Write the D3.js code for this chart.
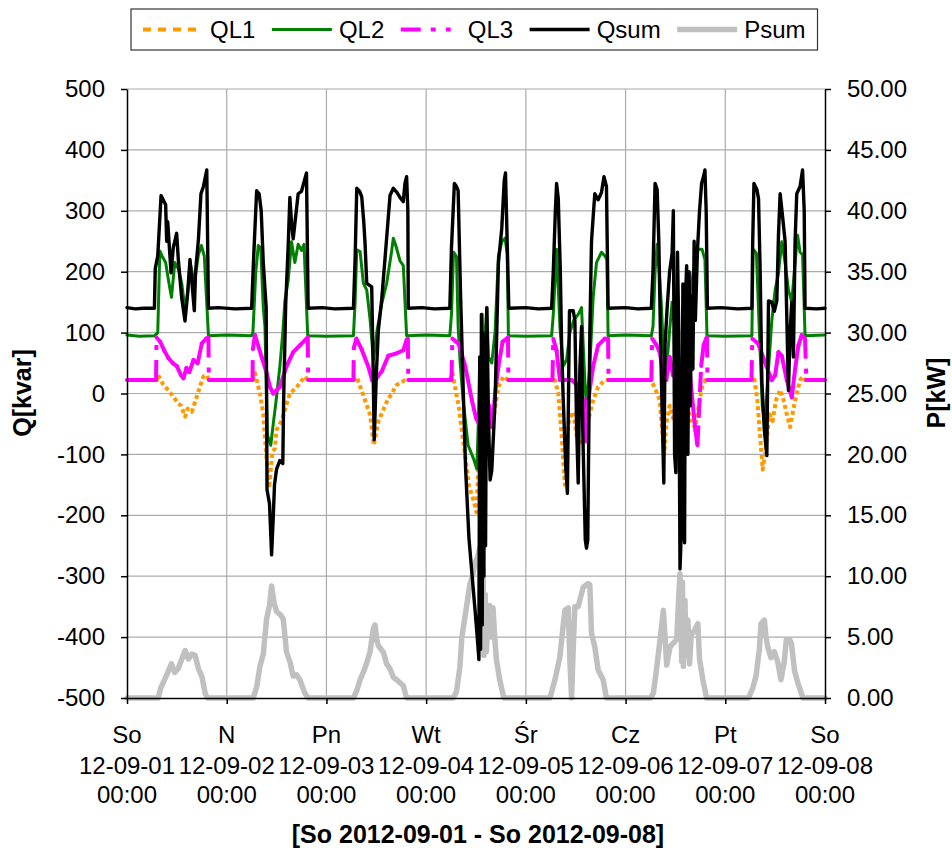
<!DOCTYPE html>
<html>
<head>
<meta charset="utf-8">
<script src="https://cdn.jsdelivr.net/npm/d3@7"></script>
<style>
  html, body { margin: 0; padding: 0; background: #fff; }
  svg { display: block; font-family: "Liberation Sans", Arial, sans-serif; }
</style>
</head>
<body>
<svg id="chart" width="952" height="848"></svg>
<script>
// ---- data: [hour since 2012-09-01 00:00, value] ----
const dayNames   = ["So", "N", "Pn", "Wt", "Śr", "Cz", "Pt", "So"];
const dateLabels = ["12-09-01", "12-09-02", "12-09-03", "12-09-04", "12-09-05", "12-09-06", "12-09-07", "12-09-08"];
const timeLabel  = "00:00";
const hourTicks  = [0, 24, 48, 72, 96, 120, 144, 168];
const qTicks     = [-500, -400, -300, -200, -100, 0, 100, 200, 300, 400, 500];
const pTicks     = [0, 5, 10, 15, 20, 25, 30, 35, 40, 45, 50];
const seriesNames = ["QL1", "QL2", "QL3", "Qsum", "Psum"];
const axisTitleX = "[So 2012-09-01 - So 2012-09-08]";

// reactive power phase L1 [kvar]
const QL1 = [
  [0,22],[7.2,22],[7.5,30],[8.7,15],[10,5],[11.1,-5],[12.3,-16],[13,-20],[14,-38],[14.6,-25],[15.6,-30],[16.8,-5],[17.5,10],[18.4,28],[19.3,30],[19.6,22],
  [30.3,22],[30.8,34],[32.0,0],[32.8,-34],[33.5,-100],[34.2,-155],[35,-96],[35.6,-90],[36.0,-60],[37.2,-45],[39.2,0],[40.8,10],[42.8,28],[43.6,22],
  [54.5,22],[55.3,27],[56.9,-3],[58.5,-35],[59.4,-85],[60.5,-46],[62.5,-14],[64.9,14],[66.9,22],
  [77.7,22],[78.3,34],[79.9,-23],[80.7,-68],[81.5,-107],[82.3,-152],[83.4,-175],[84.1,-195],[84.7,-100],[85.2,-150],[85.7,-60],[86.3,-120],[86.9,-40],[87.8,-60],[88.6,-23],[89.4,11],[90.6,28],[91.8,22],
  [102.4,22],[103.0,22],[103.8,0],[104.6,-68],[105.4,-150],[106.2,-50],[106.6,-40],[107.4,-30],[108.2,-68],[109.0,-85],[110.6,-55],[112.2,-11],[113.4,11],[115.0,22],
  [126.2,22],[127.6,0],[128.2,-11],[128.8,-60],[129.3,-100],[129.8,-50],[130.6,-20],[131.4,-40],[132.2,-30],[133.0,-70],[133.6,-40],[134.4,-55],[135.2,-30],[136.0,-50],[136.8,-56],[137.6,-20],[138.4,10],[139.2,22],
  [150.5,22],[150.9,28],[151.7,-10],[152.1,-45],[152.5,-80],[153.0,-125],[153.6,-100],[154.6,-34],[155.4,-45],[156.2,-11],[157.2,6],[158.0,-10],[158.8,-34],[159.6,-55],[160.8,-11],[162.0,22],[162.6,28],[163.2,22],[168,22]
];

// reactive power phase L2 [kvar]
const QL2 = [
  [0,96],[3,94],[6.7,95],[7.4,100],[7.9,234],[8.5,225],[9.3,215],[10.0,185],[10.7,158],[11.5,215],[12.35,205],[13.2,180],[14.0,136],[14.6,165],[15.2,215],[16.2,180],[17.2,228],[17.9,243],[18.6,226],[19.6,95],[24,96],
  [30.0,95],[30.3,100],[31.0,200],[31.6,243],[32.2,238],[32.8,141],[33.2,110],[33.8,-68],[34.6,-85],[35.2,-50],[35.9,-11],[36.8,45],[37.5,100],[38.0,152],[38.8,186],[39.6,249],[40.4,215],[41.2,245],[42.0,235],[42.6,245],[43.5,95],[48,94],
  [54.5,95],[54.9,150],[55.3,236],[56.1,233],[56.9,181],[57.7,170],[58.5,122],[59.3,56],[60.1,100],[61.3,147],[62.5,181],[63.7,234],[64.1,255],[64.7,243],[65.7,218],[66.5,210],[67.3,95],[72,96],
  [77.7,95],[78.1,130],[78.6,232],[79.3,225],[79.7,110],[80.2,50],[80.9,-11],[82.1,-85],[83.4,-107],[84.2,-124],[84.6,-40],[84.9,60],[85.2,20],[85.5,130],[85.8,40],[86.2,100],[86.6,141],[87.0,60],[87.8,50],[88.6,102],[89.4,226],[90.2,249],[91.0,255],[91.5,230],[91.8,95],[96,94],
  [102.2,95],[102.6,130],[103.4,237],[104.2,110],[105.0,45],[105.8,55],[106.6,100],[107.5,120],[108.6,130],[109.4,141],[110.2,20],[110.6,-23],[111.4,45],[112.2,158],[113.0,215],[114.2,232],[115.0,226],[115.5,220],[115.8,95],[120,96],
  [126.2,95],[126.6,110],[127.1,200],[127.6,245],[128.1,200],[128.6,147],[129.2,60],[129.9,45],[130.5,95],[131.2,150],[132.0,100],[132.6,20],[133.1,-20],[133.6,60],[134.2,100],[134.7,195],[135.4,150],[136.3,200],[137.1,225],[137.5,237],[138.4,237],[139.1,220],[139.6,95],[144,94],
  [150.4,95],[150.7,237],[151.5,230],[152.1,120],[152.9,-20],[153.5,-51],[154.4,40],[155.2,120],[156.0,170],[156.8,198],[157.6,249],[158.4,215],[159.2,170],[160.0,150],[160.8,215],[161.4,260],[162.0,232],[162.6,228],[163.2,95],[168,96]
];

// reactive power phase L3 [kvar]
const QL3 = [
  [0,22],[7.0,22],[7.1,92],[8,85],[9,70],[10,58],[11,50],[12,45],[13,30],[13.6,25],[14.3,42],[15,35],[16,55],[17,50],[18,82],[19,90],[19.6,92],[19.7,22],
  [30.2,22],[30.3,73],[30.8,96],[32.4,60],[33.6,34],[34.4,11],[35.2,0],[36.8,11],[38.4,45],[40.0,68],[41.6,79],[43.2,90],[43.5,92],[43.6,22],
  [54.5,22],[54.6,75],[55.2,90],[56.5,72],[58.1,44],[59.0,22],[59.7,22],[61.3,36],[62.9,62],[64.9,66],[66.5,71],[67.3,88],[67.6,90],[67.7,22],
  [78.1,22],[78.3,90],[79.8,82],[81.4,45],[83.0,-11],[84.0,-40],[85.1,-56],[86.0,-30],[86.6,-45],[87.2,-20],[87.9,-55],[88.6,0],[89.4,45],[90.4,85],[91.4,90],[91.7,92],[91.8,22],
  [102.4,22],[102.6,90],[103.4,70],[104.2,22],[107.0,22],[108.2,15],[109.8,-11],[110.5,-79],[111.0,-11],[112.2,45],[113.4,79],[115.0,90],[115.8,90],[115.9,22],
  [126.2,22],[126.4,90],[127.4,80],[128.2,68],[129.0,40],[129.8,22],[130.6,60],[131.4,30],[132.2,40],[133.0,0],[133.8,22],[134.6,-5],[135.4,40],[136.2,-20],[136.8,-60],[137.3,-85],[137.6,-40],[138.2,45],[138.8,80],[139.4,90],[139.6,92],[139.7,22],
  [150.3,22],[150.5,90],[151.9,82],[153.9,45],[155.2,22],[156.0,30],[156.8,68],[157.6,62],[158.8,22],[160.0,-6],[160.8,40],[161.6,79],[162.4,96],[163.2,90],[163.5,22],[168,22]
];

// total reactive power [kvar]
const Qsum = [
  [0,141],[2,139],[4,140],[6.6,140],[6.8,205],[7.4,226],[8.2,325],[9.3,310],[9.55,250],[9.8,282],[10.6,198],[11.15,240],[11.95,263],[12.35,220],[13.15,158],[13.96,119],[14.6,165],[15.16,220],[16.2,136],[16.5,200],[17.2,254],[17.8,328],[18.4,340],[19.2,367],[19.6,140],[22,141],[26,139],
  [30.0,140],[30.4,210],[31.2,333],[31.8,328],[32.3,300],[32.8,215],[33.5,141],[33.7,-158],[34.3,-181],[34.8,-265],[35.2,-203],[35.5,-150],[36,-124],[36.8,-110],[37.5,-115],[37.7,-11],[38.2,147],[38.8,243],[39.2,322],[39.6,280],[40.0,254],[41.2,328],[42,332],[43.2,362],[43.6,140],[47,141],[50,139],
  [54.5,140],[54.9,220],[55.3,337],[56.0,332],[56.5,323],[57.0,280],[57.3,246],[57.7,181],[58.9,175],[59.2,60],[59.5,-76],[60.0,30],[60.5,104],[61.3,154],[62.2,230],[62.9,290],[63.3,325],[64.1,337],[65.0,330],[65.7,322],[66.5,315],[66.9,345],[67.3,356],[67.6,300],[67.7,140],[71,141],[74,139],
  [77.7,140],[78.1,240],[78.8,345],[79.3,340],[79.7,333],[80.3,158],[81.0,-11],[81.5,-124],[82.3,-237],[83.0,-294],[83.7,-350],[84.3,-400],[84.7,-437],[84.9,60],[85.1,-420],[85.3,130],[85.5,-380],[85.7,100],[85.9,-300],[86.1,90],[86.3,-250],[86.6,141],[87.0,-40],[87.4,-142],[87.8,-126],[88.6,-11],[89.4,215],[90.2,271],[90.8,350],[91.1,362],[91.5,250],[91.9,140],[96,141],[99,139],
  [102.2,140],[102.6,200],[103.1,300],[103.4,345],[103.8,320],[104.3,200],[104.6,80],[105.0,-11],[105.6,-120],[106.0,-164],[106.3,20],[106.5,136],[107.4,136],[107.8,120],[108.2,-50],[108.6,-147],[109.0,40],[109.4,110],[109.7,-60],[110.0,-150],[110.3,-240],[110.6,-254],[110.9,-240],[111.1,-100],[111.4,100],[111.8,250],[112.3,300],[112.6,328],[113.4,318],[114.2,330],[114.8,356],[115.4,340],[115.8,140],[120,141],[123,139],
  [126.2,140],[126.6,200],[127.1,345],[127.6,335],[128.0,250],[128.5,60],[129.2,-147],[129.5,80],[130.0,140],[130.6,200],[131.2,230],[131.5,300],[131.8,-100],[132.1,-130],[132.5,232],[132.8,100],[133.1,-288],[133.3,-250],[133.5,-120],[133.8,180],[134.0,-230],[134.2,-245],[134.4,150],[134.7,210],[135.0,-100],[135.3,200],[135.6,-20],[135.9,160],[136.2,40],[136.5,250],[136.8,120],[137.3,235],[137.8,300],[138.3,345],[138.8,357],[139.1,367],[139.4,300],[139.7,140],[143,141],[147,139],
  [150.4,140],[150.6,250],[150.9,345],[151.6,335],[152.0,320],[152.4,200],[152.8,20],[153.4,-60],[154.0,-102],[154.4,152],[155.2,150],[155.8,135],[156.4,152],[156.8,260],[157.2,328],[157.8,290],[158.4,250],[159.2,5],[159.6,100],[160.0,150],[160.4,60],[160.8,250],[161.2,328],[162.0,340],[162.6,367],[163.0,300],[163.2,140],[166,139],[168,140]
];

// total active power [kW]
const Psum = [
  [0,0],[7.5,0],[8.1,0.8],[8.7,1.25],[9.7,2.0],[10.7,2.8],[11.5,2.1],[12.3,2.4],[13.2,3.2],[14.0,3.9],[14.8,3.2],[15.6,3.6],[16.4,3.5],[17.2,2.4],[18.0,1.8],[18.8,0.4],[19.4,0],
  [30.4,0],[31.2,0.9],[32.0,2.6],[32.8,3.6],[33.6,6.5],[34.3,7.6],[34.8,9.2],[35.4,7.8],[36.0,7.1],[37.0,6.8],[37.6,6.5],[38.4,3.75],[39.2,3.0],[40.0,1.8],[40.8,1.9],[41.6,1.5],[42.8,0.4],[43.6,0],
  [54.5,0],[55.3,0.6],[56.1,1.5],[57.0,2.2],[57.7,2.9],[58.5,3.8],[59.3,5.7],[59.7,6.0],[60.1,4.8],[60.5,4.3],[61.7,3.75],[62.5,2.8],[63.3,2.4],[64.1,1.7],[64.9,1.5],[66.5,1.0],[67.3,0],
  [78.5,0],[79.3,0.5],[80.1,2.5],[80.6,5.0],[81.5,7.0],[82.5,9.3],[83.3,10.2],[83.7,11.0],[84.4,11.6],[84.9,12.3],[85.1,6.0],[85.3,11.5],[85.5,4.0],[85.7,10.5],[85.9,3.5],[86.2,8.5],[86.5,3.8],[86.9,7.0],[87.3,7.6],[87.7,5.0],[88.1,7.4],[88.5,5.0],[88.9,3.2],[89.7,1.5],[90.5,0.3],[90.8,0],
  [101.8,0],[103.0,1.5],[104.2,3.4],[105.0,6.0],[105.4,7.2],[106.2,7.4],[106.6,3.0],[107.0,0],[107.5,5.0],[107.8,7.5],[108.6,7.5],[109.8,9.1],[111.0,9.4],[111.4,9.3],[111.8,5.3],[112.6,4.2],[113.4,2.3],[114.6,1.5],[115.4,0],
  [126.0,0],[126.7,0.4],[127.5,2.5],[128.3,4.8],[129.1,7.2],[129.5,5.0],[129.9,2.7],[130.7,4.2],[131.5,4.5],[132.3,4.8],[132.9,9.0],[133.1,10.2],[133.3,8.0],[133.5,3.0],[133.7,9.5],[133.9,2.6],[134.3,8.0],[134.6,3.5],[135.0,6.4],[135.4,2.8],[135.8,5.2],[136.5,5.5],[137.4,6.1],[137.8,3.2],[138.6,1.5],[139.5,0],
  [149.6,0],[150.6,0.8],[151.4,1.8],[152.2,4.0],[152.6,6.1],[153.4,6.4],[153.8,5.0],[154.2,4.2],[155.0,3.3],[155.8,3.8],[156.6,3.0],[157.4,1.5],[158.2,3.0],[158.7,4.8],[159.5,4.8],[159.9,4.5],[160.7,2.2],[161.5,1.2],[162.7,0],[168,0]
];

// ---- layout & scales ----
const svg = d3.select("#chart");
const plot = { left: 127, right: 825, top: 89, bottom: 698 };
const FONT = 24;

const x  = d3.scaleLinear().domain([0, 168]).range([plot.left, plot.right]);
const yQ = d3.scaleLinear().domain([-500, 500]).range([plot.bottom, plot.top]);
const yP = d3.scaleLinear().domain([0, 50]).range([plot.bottom, plot.top]);

// ---- gridlines ----
const grid = svg.append("g").attr("stroke", "#ababab").attr("stroke-width", 1.2);
grid.selectAll("line.h").data(qTicks.filter(d => d > -500)).join("line")
  .attr("x1", plot.left).attr("x2", plot.right)
  .attr("y1", d => yQ(d)).attr("y2", d => yQ(d));
grid.selectAll("line.v").data(hourTicks.filter(d => d > 0 && d < 168)).join("line")
  .attr("y1", plot.top).attr("y2", plot.bottom)
  .attr("x1", d => x(d)).attr("x2", d => x(d));

// ---- series ----
const styles = {
  QL1:  { color: "#ff9900", width: 4, dash: [4, 3] },
  QL2:  { color: "#008000", width: 3 },
  QL3:  { color: "#ff00ff", width: 4, pattern: [20, 10, 5, 10, 5, 10] },
  Qsum: { color: "#000000", width: 3.4 },
  Psum: { color: "#c0c0c0", width: 5.5 }
};

const lineQ = d3.line().x(d => x(d[0])).y(d => yQ(d[1]));
const lineP = d3.line().x(d => x(d[0])).y(d => yP(d[1]));

const layer = svg.append("g").attr("fill", "none").attr("stroke-linejoin", "round");

function solidPath(data, gen, st) {
  layer.append("path").datum(data).attr("d", gen)
    .attr("stroke", st.color).attr("stroke-width", st.width)
    .attr("stroke-linecap", "round");
}

// cut a repeating dash pattern to a length, keeping on/off pairs
function cutPattern(pattern, L) {
  const out = [];
  let acc = 0, i = 0;
  while (acc < L - 1e-6) {
    const v = pattern[i % pattern.length];
    const take = Math.min(v, L - acc);
    out.push(take);
    acc += take;
    i++;
  }
  if (out.length % 2 === 1) out.push(0);
  return out;
}

// each recorded step restarts the dash pattern, so long jumps read dashed and dense stretches read solid
function restartDashed(data, st, stepHours) {
  const pts = data.map(d => [x(d[0]), yQ(d[1])]);
  const stepPx = x(stepHours) - x(0);
  const g = layer.append("g").attr("stroke", st.color).attr("stroke-width", st.width);
  for (let i = 1; i < pts.length; i++) {
    const [x0, y0] = pts[i - 1], [x1, y1] = pts[i];
    const len = Math.hypot(x1 - x0, y1 - y0);
    if (len === 0) continue;
    const n = Math.max(1, Math.round(Math.abs(x1 - x0) / stepPx));
    const piece = len / n;
    const seg = g.append("line").attr("x1", x0).attr("y1", y0).attr("x2", x1).attr("y2", y1);
    if (piece <= st.pattern[0]) {
      seg.attr("stroke-linecap", "round");
    } else {
      seg.attr("stroke-linecap", "butt").attr("stroke-dasharray", cutPattern(st.pattern, piece).join(","));
    }
  }
}

solidPath(Psum, lineP, styles.Psum);
layer.append("path").datum(QL1).attr("d", lineQ)
  .attr("stroke", styles.QL1.color).attr("stroke-width", styles.QL1.width)
  .attr("stroke-dasharray", styles.QL1.dash.join(","));
solidPath(QL2, lineQ, styles.QL2);
restartDashed(QL3, styles.QL3, 0.25);
solidPath(Qsum, lineQ, styles.Qsum);

// ---- axes ----
function styleAxis(g) {
  g.select(".domain").attr("stroke", "#000").attr("stroke-width", 1.5);
  g.selectAll(".tick line").attr("stroke", "#000").attr("stroke-width", 1.5);
  g.selectAll(".tick text").attr("fill", "#000").style("font-size", FONT + "px")
    .style("font-family", '"Liberation Sans", Arial, sans-serif');
}

svg.append("g").attr("transform", `translate(${plot.left},0)`)
  .call(d3.axisLeft(yQ).tickValues(qTicks).tickSize(6).tickSizeOuter(0).tickPadding(16).tickFormat(d => String(d)))
  .call(styleAxis);

svg.append("g").attr("transform", `translate(${plot.right},0)`)
  .call(d3.axisRight(yP).tickValues(pTicks).tickSize(6).tickSizeOuter(0).tickPadding(16).tickFormat(d => d.toFixed(2)))
  .call(styleAxis);

svg.append("g").attr("transform", `translate(0,${plot.bottom})`)
  .call(d3.axisBottom(x).tickValues(hourTicks).tickSize(6).tickSizeOuter(0).tickFormat(""))
  .call(styleAxis);

// three-line day labels under each midnight
const xl = svg.append("g").attr("text-anchor", "middle").attr("fill", "#000").style("font-size", FONT + "px");
hourTicks.forEach((h, i) => {
  xl.append("text").attr("x", x(h)).attr("y", 743).text(dayNames[i]);
  xl.append("text").attr("x", x(h)).attr("y", 773.5).text(dateLabels[i]);
  xl.append("text").attr("x", x(h)).attr("y", 803).text(timeLabel);
});

// ---- axis titles ----
svg.append("text").attr("transform", "translate(31,393) rotate(-90)")
  .attr("text-anchor", "middle").style("font-size", "25px").style("font-weight", "bold").text("Q[kvar]");
svg.append("text").attr("transform", "translate(945,393) rotate(-90)")
  .attr("text-anchor", "middle").style("font-size", "25px").style("font-weight", "bold").text("P[kW]");
svg.append("text").attr("x", 478).attr("y", 843)
  .attr("text-anchor", "middle").style("font-size", "25px").style("font-weight", "bold").text(axisTitleX);

// ---- legend ----
const legend = svg.append("g");
const box = legend.append("rect").attr("x", 131).attr("y", 9).attr("height", 41)
  .attr("fill", "#fff").attr("stroke", "#333").attr("stroke-width", 1.2);
const ly = 29.5;
let lx = 143;
seriesNames.forEach(name => {
  const st = styles[name];
  const s = legend.append("line").attr("x1", lx).attr("x2", lx + 60).attr("y1", ly).attr("y2", ly)
    .attr("stroke", st.color).attr("stroke-width", st.width);
  if (name === "QL1") s.attr("stroke-dasharray", "8,7");
  if (name === "QL3") s.attr("stroke-dasharray", st.pattern.join(","));
  const t = legend.append("text").attr("x", lx + 67).attr("y", ly + 8.5)
    .style("font-size", FONT + "px").attr("fill", "#000").text(name);
  lx = lx + 67 + t.node().getComputedTextLength() + 16.5;
});
box.attr("width", lx - 16.5 + 12 - 131);
</script>
</body>
</html>
